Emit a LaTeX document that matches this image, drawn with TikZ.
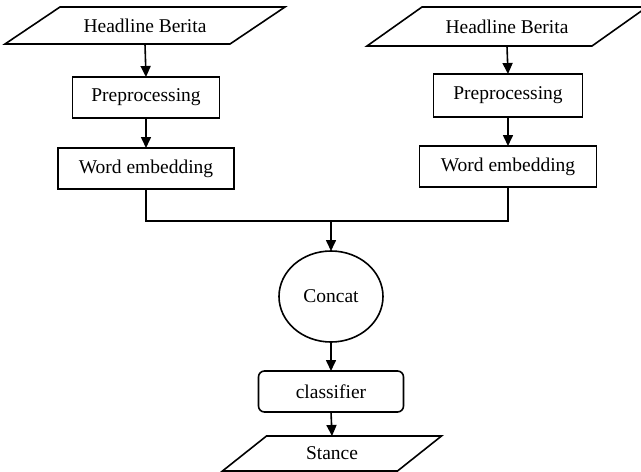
\documentclass[tikz,border=0pt]{standalone}
\usepackage{fontspec}
\setmainfont{Liberation Serif}
\usetikzlibrary{arrows.meta,calc,shapes.geometric}
\begin{document}
\begin{tikzpicture}[x=1pt,y=-1pt,
  every node/.style={font=\fontsize{19.5}{23}\selectfont, inner sep=0pt, outer sep=0pt},
  ln/.style={line width=1.6pt, line join=miter},
  arr/.style={ln, -{Triangle[length=11pt,width=10pt]}},
  box/.style={draw, ln, rectangle},
  rbox/.style={draw, ln, rectangle, rounded corners=6pt},
  circ/.style={draw, ln, ellipse},
  io/.style={rectangle}
]
\useasboundingbox (0,0) rectangle (641,472);

% left column
\node[io, minimum width=280, minimum height=37] (h1) at (145,25.5) {Headline Berita};
\draw[ln] ($(h1.north west)+(55,0)$) -- (h1.north east) -- ($(h1.south east)-(55,0)$) -- (h1.south west) -- cycle;
\node[box, minimum width=147, minimum height=41] (p1) at (146,97.5) {Preprocessing};
\node[box, minimum width=176, minimum height=41] (w1) at (146,168.5) {Word embedding};

% right column
\node[io, minimum width=280, minimum height=39] (h2) at (507,26.5) {Headline Berita};
\draw[ln] ($(h2.north west)+(55,0)$) -- (h2.north east) -- ($(h2.south east)-(55,0)$) -- (h2.south west) -- cycle;
\node[box, minimum width=149, minimum height=43] (p2) at (508,95.5) {Preprocessing};
\node[box, minimum width=177, minimum height=41] (w2) at (508,166.5) {Word embedding};

% merge
\node[circ, minimum width=104, minimum height=91] (c) at (331,296.5) {Concat};
\node[rbox, minimum width=145, minimum height=41] (cl) at (331,391.5) {classifier};
\node[io, minimum width=219, minimum height=35] (s) at (332,453.5) {Stance};
\draw[ln] ($(s.north west)+(44,0)$) -- (s.north east) -- ($(s.south east)-(44,0)$) -- (s.south west) -- cycle;

\coordinate (j) at (331,221);

% connectors
\draw[arr] (h1.south) -- (p1.north);
\draw[arr] (p1.south) -- (w1.north);
\draw[arr] (h2.south) -- (p2.north);
\draw[arr] (p2.south) -- (w2.north);
\draw[ln] (w1.south) |- (j) -| (w2.south);
\draw[arr] (j) -- (c.north);
\draw[arr] (c.south) -- (cl.north);
\draw[arr] (cl.south) -- (s.north);
\end{tikzpicture}
\end{document}
